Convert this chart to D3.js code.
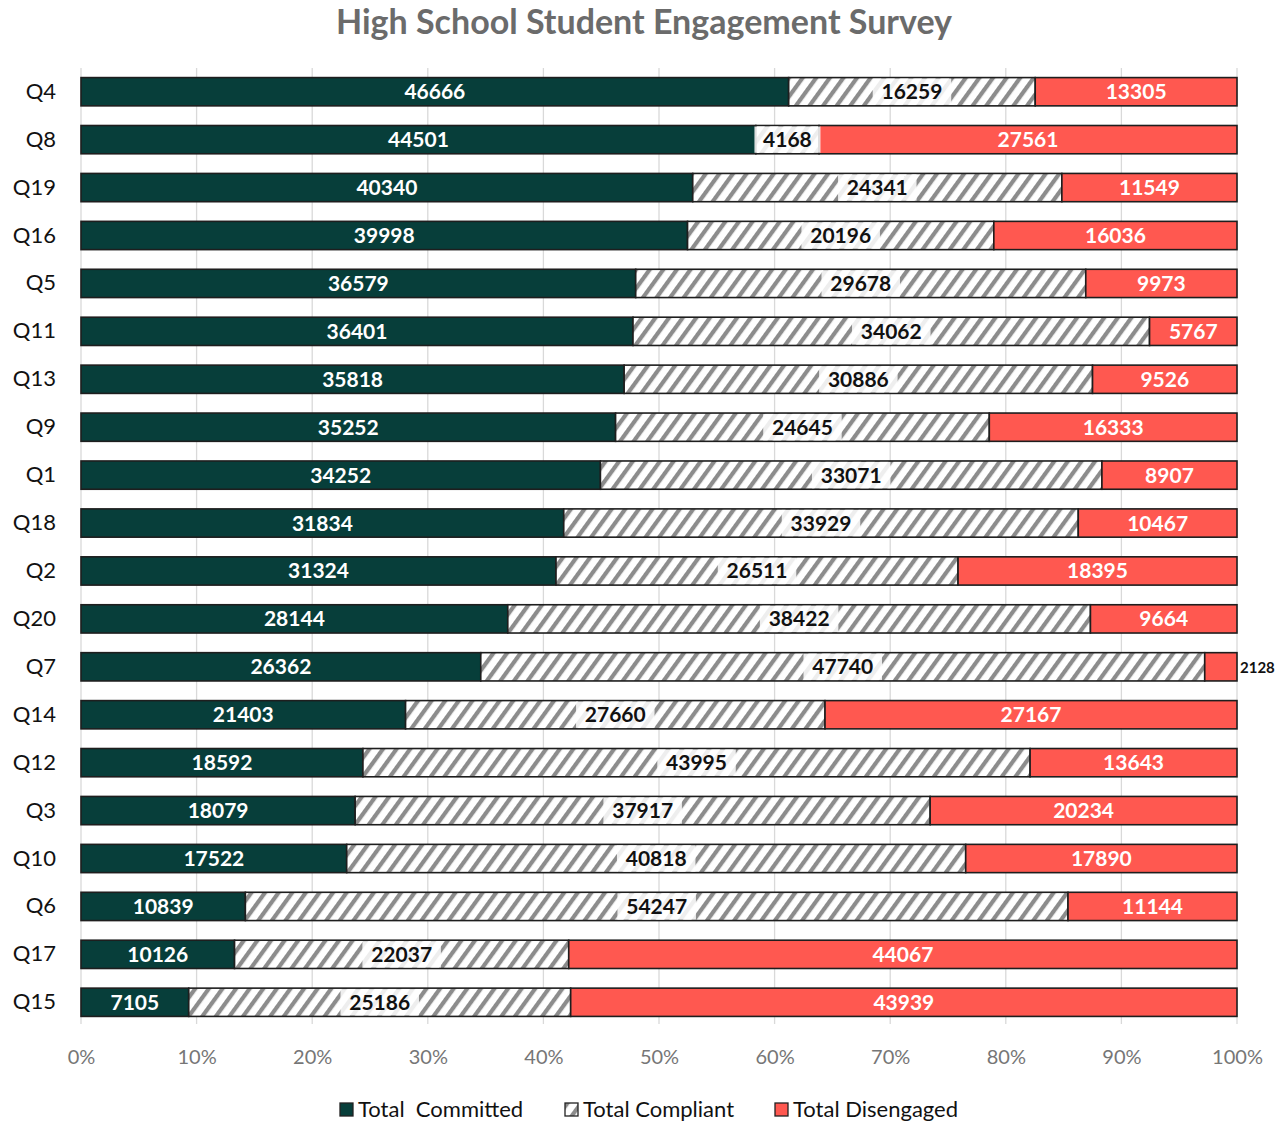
<!DOCTYPE html>
<html>
<head>
<meta charset="utf-8">
<script src="https://cdn.jsdelivr.net/npm/d3@7"></script>
<style>
  body { margin: 0; background: #fff; }
  svg text { font-family: Lato, "Open Sans", sans-serif; }
</style>
</head>
<body>
<svg id="chart" width="1288" height="1124"></svg>
<script>
const questions = ["Q4", "Q8", "Q19", "Q16", "Q5", "Q11", "Q13", "Q9", "Q1", "Q18",
  "Q2", "Q20", "Q7", "Q14", "Q12", "Q3", "Q10", "Q6", "Q17", "Q15"];
const committed = [46666, 44501, 40340, 39998, 36579, 36401, 35818, 35252, 34252, 31834,
  31324, 28144, 26362, 21403, 18592, 18079, 17522, 10839, 10126, 7105];
const compliant = [16259, 4168, 24341, 20196, 29678, 34062, 30886, 24645, 33071, 33929,
  26511, 38422, 47740, 27660, 43995, 37917, 40818, 54247, 22037, 25186];
const disengaged = [13305, 27561, 11549, 16036, 9973, 5767, 9526, 16333, 8907, 10467,
  18395, 9664, 2128, 27167, 13643, 20234, 17890, 11144, 44067, 43939];
const seriesNames = ["Total  Committed", "Total Compliant", "Total Disengaged"];
const tickValues = [0, 0.1, 0.2, 0.3, 0.4, 0.5, 0.6, 0.7, 0.8, 0.9, 1];

const svg = d3.select("#chart");
const margin = { top: 68, left: 81, right: 51 };
const plotW = 1288 - margin.left - margin.right;

const rows = questions.map((q, i) => ({ q, values: [committed[i], compliant[i], disengaged[i]] }));

const x = d3.scaleLinear().domain([0, 1]).range([margin.left, margin.left + plotW]);
const y = d3.scaleBand().domain(questions).range([68, 1026]).paddingInner(0.41).paddingOuter(0.2);

// hatch pattern, steeper and sparser like the excel fill
const defs = svg.append("defs");
const pat = defs.append("pattern")
  .attr("id", "hatch")
  .attr("patternUnits", "userSpaceOnUse")
  .attr("width", 11).attr("height", 11)
  .attr("patternTransform", "rotate(36)");
pat.append("rect").attr("width", 11).attr("height", 11).attr("fill", "#fff");
pat.append("rect").attr("x", 0).attr("width", 4.2).attr("height", 11).attr("fill", "#8c8c8c");

const fills = ["#073e3a", "url(#hatch)", "#ff5850"];

// title
svg.append("text")
  .attr("x", 644).attr("y", 34)
  .attr("text-anchor", "middle")
  .style("font-size", "34px").style("font-weight", "bold").style("fill", "#6b6b6b")
  .text("High School Student Engagement Survey");

// gridlines
svg.append("g").selectAll("line").data(tickValues).join("line")
  .attr("x1", (d) => x(d)).attr("x2", (d) => x(d))
  .attr("y1", 68).attr("y2", 1024)
  .attr("stroke", "#d9d9d9").attr("stroke-width", 1.3);

// x axis labels
const xAxis = d3.axisBottom(x).tickValues(tickValues).tickFormat(d3.format(".0%")).tickSize(0).tickPadding(0);
const gx = svg.append("g").attr("transform", "translate(0,1064)").call(xAxis);
gx.select(".domain").remove();
gx.selectAll("text").style("font-size", "20px").style("fill", "#767676")
  .style("font-family", "Lato, sans-serif").attr("dy", 0);

// y axis labels
const yAxis = d3.axisLeft(y).tickSize(0).tickPadding(25);
const gy = svg.append("g").attr("transform", `translate(${margin.left},0)`).call(yAxis);
gy.select(".domain").remove();
gy.selectAll("text").style("font-size", "22px").style("fill", "#111")
  .style("font-family", "Lato, sans-serif");

// bars
rows.forEach((r) => {
  const total = d3.sum(r.values);
  let acc = 0;
  const segs = r.values.map((v, k) => {
    const s = { k, v, x0: acc / total, x1: (acc + v) / total };
    acc += v;
    return s;
  });
  const g = svg.append("g");
  const y0 = y(r.q), h = y.bandwidth();
  g.selectAll("rect").data(segs).join("rect")
    .attr("x", (d) => x(d.x0)).attr("y", y0)
    .attr("width", (d) => x(d.x1) - x(d.x0)).attr("height", h)
    .attr("fill", (d) => fills[d.k])
    .attr("stroke", "#1e1e1e").attr("stroke-width", 1.6);

  segs.forEach((d) => {
    const w = x(d.x1) - x(d.x0);
    const label = String(d.v);
    if (w < 40) {
      g.append("text")
        .attr("x", x(d.x1) + 3).attr("y", y0 + h / 2 + 6)
        .style("font-size", "15px").style("font-weight", "bold").style("fill", "#111")
        .text(label);
      return;
    }
    const cx = (x(d.x0) + x(d.x1)) / 2;
    if (d.k === 1) {
      const tw = label.length * 12.5 + 16;
      g.append("rect")
        .attr("x", cx - tw / 2).attr("y", y0 + 1)
        .attr("width", tw).attr("height", h - 2)
        .attr("fill", "#fff").attr("opacity", 0.85);
    }
    g.append("text")
      .attr("x", cx).attr("y", y0 + h / 2 + 7.5)
      .attr("text-anchor", "middle")
      .style("font-size", "21px").style("font-weight", "bold")
      .style("fill", d.k === 1 ? "#111" : "#fff")
      .text(label);
  });
});

// legend
const legendItems = [
  { name: seriesNames[0], x: 340, fill: fills[0] },
  { name: seriesNames[1], x: 565, fill: fills[1] },
  { name: seriesNames[2], x: 775, fill: fills[2] }
];
const lg = svg.append("g").selectAll("g").data(legendItems).join("g")
  .attr("transform", (d) => `translate(${d.x},1103)`);
lg.append("rect").attr("width", 13).attr("height", 13)
  .attr("fill", (d) => d.fill).attr("stroke", "#222").attr("stroke-width", 1.3);
lg.append("text").attr("x", 18).attr("y", 14)
  .style("font-size", "22px").style("fill", "#111")
  .style("white-space", "pre")
  .attr("xml:space", "preserve")
  .text((d) => d.name);
</script>
</body>
</html>
